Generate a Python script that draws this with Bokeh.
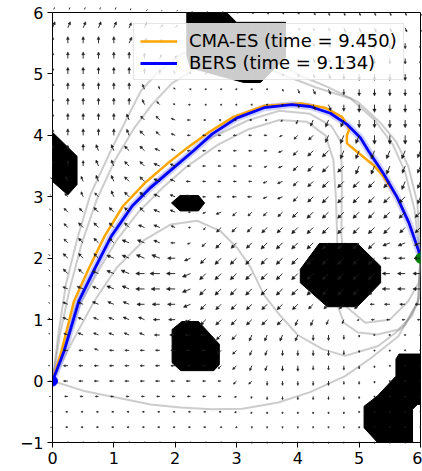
import numpy as np
from bokeh.plotting import figure
from bokeh.models import ColumnDataSource, Arrow, NormalHead, Legend, LegendItem, Range1d
from bokeh.embed import file_html
from bokeh.resources import INLINE

# ---------------- data ----------------
x_ticks = [0, 1, 2, 3, 4, 5, 6]
y_ticks = [-1, 0, 1, 2, 3, 4, 5, 6]

# quiver grid: columns x = 0..6 step 0.25, rows y = 6..-1 step 0.25
grid_x = np.linspace(0, 6, 25)
grid_y = np.linspace(6, -1, 29)
# direction code per arrow: a=E, then +22.5 deg counter-clockwise per letter (e=N, i=W, m=S)
dir_rows = [
    "ddddddcccbbbapoooonnnnnnn",
    "dddddddcccbaapooonnnnnnnn",
    "eeeeedddccbapoonnnnnmmmmm",
    "eeeeeeeddcbaoonnnnnmmmmmm",
    "eeeeeeeeffgimnnnnnnmmmmmm",
    "eeeeeeffghiiiiinnnnmmmmmm",
    "eeeeeefghiiiiiimnnnmmmmmm",
    "eeeeefgghiiiiiikllllmmmmm",
    "eeeeefgghiiiiiijkklllmmmm",
    "eeeffgghhiiiiiijkkkllllll",
    "eeeffgghhiiiiijjkkkklllll",
    "fffffgghhiiiiijjkkkkkkkll",
    "ggfgfgghhhiiiijjkkkkkkkkl",
    "ggggggghhijjkkkkkkkkkkkkk",
    "gggggghhhikkkkkkkkkkkkkkk",
    "ggggghhhijkkkkkkkkkkkkjjj",
    "gggghhhhijkkkkkkkkkkkkiii",
    "ggghhhiiijkkkkkkkkkkkkiii",
    "ghhhhhiiijkkkkkkkkkkkkiii",
    "hhhhhhiiijkkkkkkkkkkkiiii",
    "hhhhhhhiijkkkkkkllllj" + "iiii",
    "hhhhhhhiiiikkllllmmmmiiii",
    "iiihiiiiiiikkllmmmmmmmmii",
    "iiiiiiiiiiikkllmmmmmmmmmm",
    "iiiiiiiiiiiikkmmmmmmmmmmm",
    "iiiiiiiiiiiijlmmmmmmmmmmm",
    "iiiiiiiiiiiijlmmmmmmmmmmm",
    "iiiiiiiiiiijjmmmmmmmmmmmm",
    "iiiiiiiiiiiimmmmmmmmmmmmm",
]
len_rows = [
    "5555544332222222233333333",
    "6666655432221122333444444",
    "6666665432111122334445555",
    "6666665432111122344555555",
    "6666665432111122345566666",
    "6666665321111112455566666",
    "6666665422111111356677777",
    "6666665543222222467777777",
    "6666666543333333567888888",
    "5566666543333334678888887",
    "5556666653333334678888877",
    "4556666654333345678888887",
    "3455666654344445678888887",
    "4556666652355556788888887",
    "4566666642366677888888877",
    "5566677643577788888888776",
    "5666778876788888888888666",
    "5666788988888888888888777",
    "5566778888888888888888777",
    "4556667777777777766664555",
    "4555566666777777665423333",
    "4455555555566666655421111",
    "3444444444455555555421111",
    "4444444443345555544432111",
    "3444444444334444444332111",
    "3333333333332233333321111",
    "2222222222222222222211111",
    "2222222222211111111111111",
    "1111111111111111111111111",
]

# paths
blue_x = [0, 0.19, 0.43, 0.70, 0.96, 1.30, 1.60, 1.95, 2.30, 2.60, 3.00, 3.45, 3.90, 4.20, 4.53, 4.80, 5.02, 5.15, 5.40, 5.62, 5.81, 5.97, 6.00]
blue_y = [0, 0.49, 1.30, 1.85, 2.36, 2.85, 3.15, 3.45, 3.75, 4.02, 4.28, 4.45, 4.50, 4.47, 4.36, 4.18, 3.96, 3.75, 3.37, 2.99, 2.58, 2.12, 2.00]
orange_x = [0, 0.15, 0.35, 0.60, 0.85, 1.15, 1.50, 1.85, 2.20, 2.55, 2.95, 3.45, 4.06, 4.44, 4.72, 4.84, 4.80, 4.80, 4.98, 5.25, 5.38, 5.62, 5.81, 5.97, 6.00]
orange_y = [0, 0.50, 1.30, 1.85, 2.36, 2.85, 3.22, 3.52, 3.80, 4.05, 4.30, 4.48, 4.52, 4.45, 4.30, 4.10, 4.00, 3.87, 3.72, 3.50, 3.35, 2.99, 2.58, 2.12, 2.00]

gray_xs = [
    [0, 0.10, 0.22, 0.41, 0.62, 0.95, 1.22, 1.44, 1.71, 2.09, 2.60, 3.10, 3.60, 4.05, 4.50, 4.97, 5.35, 5.60, 5.80, 5.95, 6.0],
    [0, 0.12, 0.28, 0.48, 0.72, 1.02, 1.32, 1.62, 1.95, 2.35, 2.85, 3.35, 3.85, 4.30, 4.86, 5.25, 5.55, 5.75, 5.90, 6.0],
    [0, 0.20, 0.45, 0.75, 1.05, 1.40, 1.80, 2.20, 2.70, 3.20, 3.70, 4.15, 4.45, 4.58, 4.62, 4.64, 4.66, 4.75, 4.98, 5.31, 5.64, 5.86, 5.99, 6.0],
    [0, 0.17, 0.40, 0.67, 0.93, 1.25, 1.60, 2.00, 2.50, 3.20, 3.70, 4.20, 4.55, 4.70, 4.72, 4.71, 4.80, 5.10, 5.50, 5.80, 5.97, 6.0],
    [0, 0.30, 0.68, 1.05, 1.50, 1.93, 2.36, 2.74, 3.01, 3.23, 3.45, 3.70, 4.00, 4.40, 4.77, 5.31, 5.74, 5.96, 6.0],
    [0, 0.51, 1.06, 1.60, 2.09, 2.59, 3.10, 3.68, 4.20, 4.77, 5.20, 5.64, 5.96, 6.0],
]
gray_ys = [
    [0, 0.80, 1.58, 2.34, 3.04, 3.75, 4.29, 4.72, 5.02, 5.32, 5.48, 5.42, 5.22, 4.97, 4.78, 4.55, 4.20, 3.90, 3.50, 2.90, 2.0],
    [0, 0.75, 1.50, 2.25, 2.95, 3.60, 4.10, 4.50, 4.85, 5.10, 5.22, 5.15, 4.95, 4.78, 4.60, 4.25, 3.85, 3.40, 2.80, 2.0],
    [0, 0.50, 1.25, 1.80, 2.30, 2.75, 3.15, 3.50, 3.85, 4.10, 4.25, 4.22, 4.00, 3.60, 3.00, 2.40, 1.20, 0.95, 0.79, 0.76, 0.84, 1.06, 1.40, 2.0],
    [0, 0.50, 1.28, 1.82, 2.32, 2.80, 3.18, 3.52, 3.92, 4.25, 4.40, 4.35, 4.15, 3.90, 3.30, 2.40, 1.20, 0.95, 1.00, 1.30, 1.60, 2.0],
    [0, 0.60, 1.30, 1.85, 2.30, 2.55, 2.61, 2.44, 2.17, 1.85, 1.40, 1.08, 0.75, 0.52, 0.41, 0.57, 0.90, 1.28, 2.0],
    [0, -0.16, -0.27, -0.38, -0.43, -0.46, -0.45, -0.35, -0.18, 0.08, 0.38, 0.73, 1.30, 2.0],
]

obstacle_xs = [
    [0, 0.40, 0.40, 0.25, 0],
    [1.94, 2.08, 2.38, 2.48, 2.38, 2.08],
    [1.95, 2.11, 2.38, 2.72, 2.72, 2.63, 2.09, 1.95],
    [4.04, 4.35, 4.97, 5.35, 5.35, 4.97, 4.48, 4.04],
    [6.0, 5.65, 5.60, 5.60, 5.30, 5.08, 5.08, 5.30, 5.87, 5.87, 5.95, 6.0],
    [2.19, 2.84, 3.00, 3.80, 3.80, 3.39, 3.12, 2.25, 2.19],
]
obstacle_ys = [
    [4.05, 3.66, 3.20, 3.03, 3.25],
    [2.90, 3.02, 3.02, 2.90, 2.77, 2.77],
    [0.84, 0.97, 0.97, 0.60, 0.27, 0.17, 0.17, 0.30],
    [1.82, 2.24, 2.24, 1.87, 1.60, 1.21, 1.21, 1.60],
    [0.44, 0.44, 0.36, 0.08, -0.24, -0.41, -0.76, -1.0, -1.0, -0.46, -0.38, -0.38],
    [6.0, 6.0, 5.84, 5.84, 5.27, 4.86, 4.86, 5.10, 5.30],
]

start_pt = (0, 0)
goal_pt = (6, 2)
labels = ["CMA-ES (time = 9.450)", "BERS (time = 9.134)"]

# ---------------- figure ----------------
W, H = 422, 470
BL, BR, BT, BB = 52, 2, 12, 28
p = figure(width=W, height=H, x_range=Range1d(0, 6), y_range=Range1d(-1, 6),
           output_backend="svg", toolbar_location=None,
           min_border_left=BL, min_border_right=BR, min_border_top=BT, min_border_bottom=BB)
p.background_fill_color = "white"
p.border_fill_color = "white"
p.grid.visible = False
p.outline_line_color = "black"
p.outline_line_width = 1
p.outline_line_alpha = 1

for ax in (p.xaxis[0], p.yaxis[0]):
    ax.major_label_text_font = "DejaVu Sans"
    ax.major_label_text_font_size = "16px"
    ax.major_label_text_color = "black"
    ax.major_tick_in = 0
    ax.major_tick_out = 5
    ax.minor_tick_in = 0
    ax.minor_tick_out = 0
    ax.axis_line_color = "black"
    ax.major_tick_line_color = "black"
p.xaxis.ticker = x_ticks
p.yaxis.ticker = y_ticks
p.xaxis.major_label_standoff = 4
p.yaxis.major_label_standoff = 4
p.yaxis.major_label_overrides = {-1: "\u22121"}

# quiver
fx = (W - BL - BR) / 6.0
fy = (H - BT - BB) / 7.0
codes = "abcdefghijklmnop"
groups = {}
for r, (drow, lrow) in enumerate(zip(dir_rows, len_rows)):
    for c in range(25):
        ang = np.deg2rad(codes.index(drow[c]) * 22.5)
        d = int(lrow[c])
        lpx = 1.1 * d
        x0 = grid_x[c]
        y0 = grid_y[r]
        x1 = x0 + lpx * np.cos(ang) / fx
        y1 = y0 + lpx * np.sin(ang) / fy
        g = groups.setdefault(d, dict(x0=[], y0=[], x1=[], y1=[]))
        g["x0"].append(x0); g["y0"].append(y0); g["x1"].append(x1); g["y1"].append(y1)

for d, g in groups.items():
    src = ColumnDataSource(g)
    hs = min(3.5, max(1.5, 0.42 * 1.1 * d))
    p.add_layout(Arrow(end=NormalHead(size=hs, fill_color="#1a1a1a", line_color="#1a1a1a", line_width=0.5),
                       x_start="x0", y_start="y0", x_end="x1", y_end="y1", source=src,
                       line_color="#1a1a1a", line_width=0.9))

# gray sample paths
p.multi_line(gray_xs, gray_ys, line_color="gray", line_alpha=0.4, line_width=2)

# obstacles
p.patches(obstacle_xs, obstacle_ys, fill_color="black", line_color="black", line_width=1)

# paths
p.line(blue_x, blue_y, line_color="#6060ff", line_alpha=0.3, line_width=7)
r_or = p.line(orange_x, orange_y, line_color="orange", line_width=2.5)
r_bl = p.line(blue_x, blue_y, line_color="blue", line_width=2.8)

p.scatter([start_pt[0]], [start_pt[1]], size=10, color="blue")
p.scatter([goal_pt[0]], [goal_pt[1]], size=10, color="green")

legend = Legend(items=[LegendItem(label=labels[0], renderers=[r_or]),
                       LegendItem(label=labels[1], renderers=[r_bl])],
                location=(81, 362))
legend.label_text_font = "DejaVu Sans"
legend.label_text_font_size = "18px"
legend.label_text_color = "black"
legend.glyph_width = 37
legend.glyph_height = 20
legend.label_standoff = 12
legend.spacing = 1
legend.padding = 6
legend.margin = 0
legend.border_line_color = "#cccccc"
legend.border_line_width = 1
legend.background_fill_color = "white"
legend.background_fill_alpha = 0.8
p.add_layout(legend)

open("out.html", "w").write(file_html(p, INLINE))
